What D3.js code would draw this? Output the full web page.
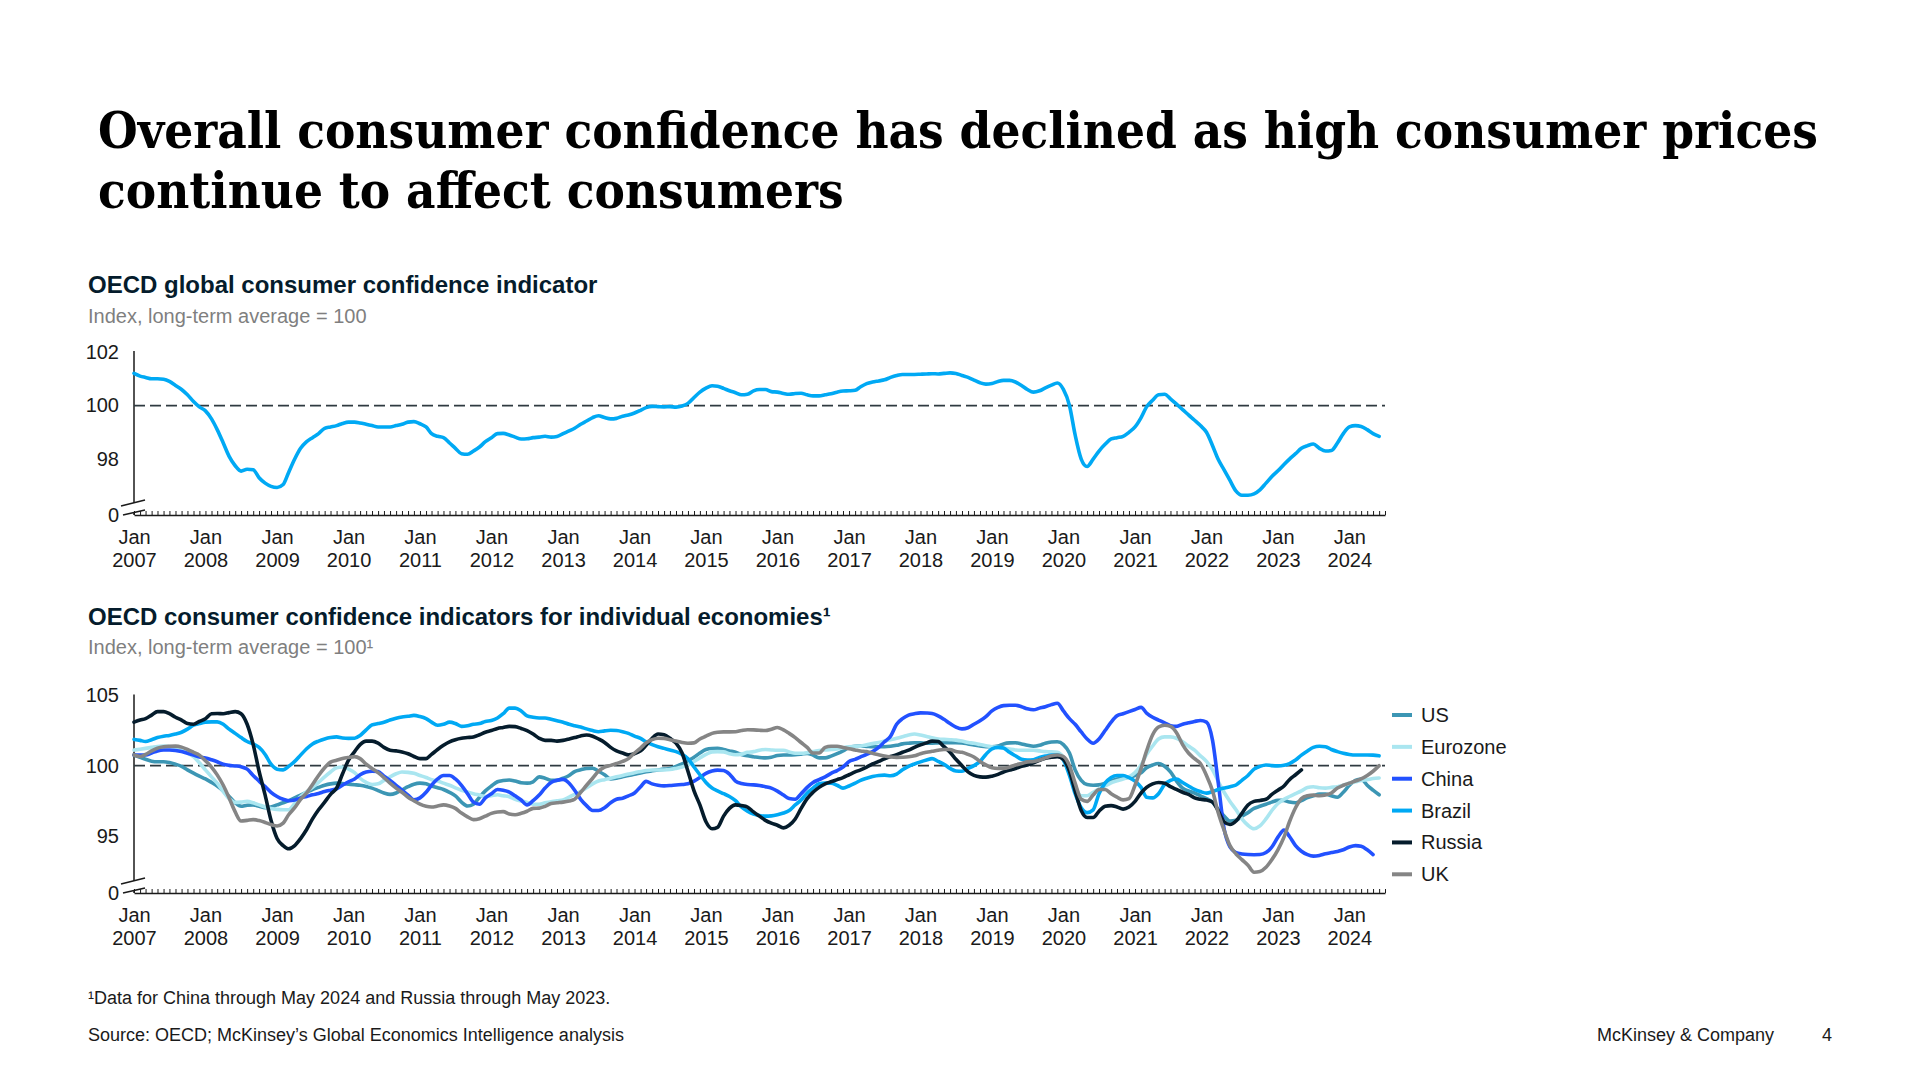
<!DOCTYPE html>
<html><head><meta charset="utf-8">
<script src="https://cdn.jsdelivr.net/npm/d3@7"></script>
<style>
html,body{margin:0;padding:0;background:#fff;}
svg{display:block;}
text{font-family:"Liberation Sans",Arial,sans-serif;}
</style></head>
<body>
<svg id="chart" width="1920" height="1080"></svg>
<script>
// ---------------- DATA ----------------
const startMonth = new Date(2007, 0, 1);
const endMonth = new Date(2024, 6, 1);           // exclusive
const months = d3.timeMonth.range(startMonth, endMonth); // Jan 2007 .. Jun 2024
const yearLabels = d3.range(2007, 2025);         // "Jan YYYY" labels

const globalCCI = [
 101.2,101.1,101.05,101.0,101.0,100.98,100.9,100.75,100.6,100.4,100.15,99.95,
 99.8,99.5,99.1,98.6,98.1,97.75,97.55,97.62,97.6,97.3,97.1,96.98,
 96.94,97.05,97.5,98.0,98.4,98.65,98.8,98.95,99.15,99.2,99.25,99.33,
 99.38,99.38,99.35,99.3,99.25,99.2,99.2,99.2,99.25,99.3,99.38,99.4,
 99.32,99.2,98.95,98.85,98.8,98.6,98.4,98.2,98.18,98.3,98.45,98.65,
 98.8,98.95,98.96,98.9,98.82,98.75,98.76,98.8,98.82,98.85,98.82,98.84,
 98.95,99.05,99.15,99.3,99.42,99.55,99.62,99.55,99.5,99.52,99.6,99.65,
 99.72,99.82,99.92,99.97,99.96,99.95,99.96,99.94,99.98,100.08,100.3,100.5,
 100.65,100.74,100.72,100.64,100.55,100.48,100.4,100.42,100.55,100.6,100.6,100.52,
 100.5,100.45,100.42,100.45,100.46,100.4,100.36,100.36,100.4,100.44,100.5,100.54,
 100.55,100.57,100.7,100.82,100.88,100.92,100.96,101.05,101.12,101.16,101.16,101.16,
 101.17,101.18,101.19,101.18,101.2,101.22,101.2,101.12,101.05,100.95,100.85,100.8,
 100.82,100.9,100.94,100.94,100.88,100.75,100.6,100.5,100.55,100.66,100.76,100.84,
 100.6,100.0,98.9,98.0,97.72,98.0,98.3,98.55,98.75,98.8,98.85,99.0,
 99.2,99.55,99.95,100.2,100.4,100.42,100.25,100.05,99.85,99.65,99.45,99.25,
 99.0,98.5,98.0,97.6,97.2,96.8,96.65,96.65,96.7,96.85,97.1,97.35,
 97.56,97.8,98.0,98.2,98.4,98.5,98.56,98.4,98.3,98.32,98.6,98.95,
 99.2,99.25,99.22,99.1,98.95,98.85
];

const usCCI = [
 100.76,100.6,100.45,100.32,100.28,100.28,100.22,100.1,99.95,99.7,99.46,99.25,
 99.05,98.8,98.55,98.2,97.8,97.35,97.1,97.18,97.2,97.1,97.0,97.05,
 97.2,97.35,97.5,97.7,97.9,98.1,98.3,98.45,98.6,98.7,98.75,98.72,
 98.68,98.64,98.6,98.52,98.4,98.22,98.05,97.95,98.05,98.27,98.5,98.68,
 98.75,98.7,98.55,98.42,98.3,98.1,97.85,97.4,97.12,97.25,97.75,98.2,
 98.55,98.85,98.94,98.98,98.9,98.78,98.75,98.85,99.2,99.1,98.95,98.95,
 99.1,99.3,99.58,99.7,99.8,99.81,99.6,99.35,99.05,99.1,99.2,99.3,
 99.38,99.48,99.56,99.63,99.69,99.75,99.8,99.95,100.12,100.35,100.6,100.9,
 101.15,101.22,101.23,101.15,101.05,100.95,100.8,100.7,100.64,100.58,100.55,100.6,
 100.72,100.76,100.76,100.78,100.82,100.87,100.75,100.55,100.55,100.68,100.85,101.05,
 101.3,101.38,101.39,101.37,101.35,101.35,101.35,101.38,101.45,101.55,101.6,101.63,
 101.62,101.6,101.6,101.62,101.63,101.63,101.63,101.62,101.55,101.47,101.4,101.35,
 101.35,101.4,101.55,101.62,101.63,101.55,101.45,101.38,101.45,101.6,101.68,101.7,
 101.5,100.9,99.7,98.95,98.65,98.6,98.63,98.75,98.9,99.05,99.12,99.17,
 99.3,99.5,99.85,100.05,100.15,99.95,99.55,98.9,98.4,98.2,98.05,97.85,
 97.65,97.4,96.9,96.4,96.05,96.1,96.4,96.65,96.95,97.1,97.25,97.4,
 97.52,97.52,97.4,97.35,97.5,97.72,97.85,97.97,97.98,97.85,97.75,98.1,
 98.6,98.95,99.05,98.6,98.25,97.92
];

const eurozoneCCI = [
 101.11,101.17,101.23,101.3,101.37,101.39,101.37,101.3,101.15,100.9,100.64,100.2,
 99.7,99.2,98.75,98.15,97.65,97.38,97.4,97.45,97.35,97.2,97.05,96.95,
 96.88,96.86,96.86,97.3,97.8,98.15,98.45,98.8,99.2,99.55,99.85,99.9,
 99.75,99.5,99.1,98.8,98.65,98.7,98.95,99.2,99.42,99.55,99.52,99.45,
 99.3,99.15,99.0,98.9,98.75,98.6,98.42,98.25,98.12,98.0,97.9,97.8,
 97.85,97.92,97.85,97.78,97.6,97.48,97.38,97.25,97.25,97.35,97.42,97.5,
 97.56,97.75,97.95,98.15,98.42,98.7,98.9,99.0,99.1,99.2,99.3,99.4,
 99.5,99.58,99.65,99.69,99.69,99.69,99.72,99.8,99.9,100.05,100.3,100.55,
 100.8,100.98,101.0,100.98,100.85,100.78,100.82,100.95,101.0,101.1,101.15,101.12,
 101.1,101.1,100.98,100.88,100.88,100.92,101.0,101.08,101.12,101.15,101.18,101.28,
 101.35,101.37,101.39,101.48,101.57,101.65,101.75,101.85,101.95,102.06,102.18,102.25,
 102.18,102.08,101.98,101.9,101.87,101.85,101.82,101.75,101.65,101.6,101.5,101.42,
 101.35,101.3,101.25,101.18,101.12,101.1,101.1,101.1,101.05,101.0,100.99,100.95,
 100.6,99.85,98.6,97.85,97.85,98.1,98.35,98.55,98.78,98.92,99.05,99.2,
 99.5,100.05,100.8,101.4,101.9,102.05,102.05,101.95,101.7,101.4,101.1,100.7,
 100.3,99.7,98.9,98.1,97.45,96.85,96.2,95.75,95.5,95.7,96.2,96.8,
 97.3,97.6,97.8,98.0,98.2,98.45,98.5,98.42,98.4,98.45,98.5,98.6,
 98.75,98.85,98.94,99.0,99.08,99.12
];

const chinaCCI = [ // through May 2024
 100.76,100.76,100.76,100.9,101.05,101.11,101.11,101.08,101.0,100.88,100.75,100.62,
 100.55,100.42,100.28,100.1,100.02,99.98,99.92,99.75,99.3,98.9,98.5,98.1,
 97.8,97.6,97.5,97.55,97.7,97.8,97.92,98.02,98.15,98.25,98.35,98.6,
 98.85,99.05,99.35,99.55,99.6,99.58,99.25,98.95,98.6,98.25,97.9,97.56,
 97.7,98.1,98.6,99.05,99.3,99.3,99.05,98.6,98.0,97.4,97.25,97.7,
 98.0,98.3,98.25,98.12,97.85,97.55,97.2,97.5,97.9,98.4,98.8,98.95,
 99.02,98.75,98.25,97.6,97.15,96.8,96.8,97.0,97.35,97.6,97.68,97.85,
 98.05,98.5,98.88,98.7,98.6,98.56,98.58,98.62,98.65,98.7,98.9,99.15,
 99.45,99.62,99.68,99.65,99.4,98.9,98.72,98.65,98.63,98.58,98.5,98.4,
 98.18,97.9,97.65,97.6,98.0,98.45,98.8,99.0,99.2,99.45,99.65,99.9,
 100.3,100.45,100.62,100.8,101.0,101.3,101.7,102.1,102.95,103.35,103.6,103.7,
 103.76,103.75,103.72,103.55,103.3,103.0,102.75,102.62,102.7,102.95,103.2,103.5,
 103.9,104.15,104.28,104.3,104.3,104.2,104.05,103.98,104.1,104.2,104.35,104.45,
 103.9,103.35,102.95,102.4,101.9,101.6,101.9,102.5,103.1,103.55,103.7,103.85,
 104.0,104.15,103.75,103.45,103.25,103.05,102.85,102.8,102.95,103.05,103.15,103.22,
 103.1,101.8,98.9,95.5,94.2,93.8,93.7,93.66,93.65,93.66,93.8,94.2,
 94.9,95.4,94.95,94.3,93.9,93.65,93.55,93.6,93.72,93.8,93.88,94.0,
 94.2,94.3,94.25,94.0,93.66
];

const brazilCCI = [
 101.87,101.8,101.72,101.85,102.0,102.1,102.15,102.25,102.38,102.6,102.88,103.0,
 103.1,103.12,103.12,102.95,102.6,102.3,102.0,101.72,101.55,101.3,100.8,100.1,
 99.75,99.7,99.95,100.3,100.75,101.2,101.55,101.75,101.9,102.0,102.05,101.97,
 101.94,101.95,102.15,102.55,102.9,103.0,103.1,103.25,103.38,103.47,103.52,103.58,
 103.5,103.35,103.1,102.88,102.95,103.1,103.0,102.8,102.85,102.95,103.0,103.15,
 103.22,103.4,103.7,104.1,104.1,103.9,103.55,103.45,103.4,103.4,103.3,103.2,
 103.1,102.95,102.85,102.75,102.62,102.5,102.42,102.48,102.52,102.5,102.42,102.3,
 102.1,101.94,101.7,101.5,101.35,101.23,101.12,101.0,100.8,100.5,99.9,99.35,
 98.8,98.4,98.2,98.0,97.8,97.5,97.05,96.75,96.55,96.45,96.4,96.42,
 96.5,96.62,96.8,97.2,97.55,98.05,98.4,98.7,98.75,98.75,98.6,98.4,
 98.55,98.75,98.95,99.1,99.22,99.3,99.32,99.28,99.4,99.7,99.95,100.12,
 100.27,100.4,100.5,100.3,100.1,99.8,99.62,99.6,99.8,100.0,100.3,100.8,
 101.2,101.3,101.25,100.95,100.7,100.45,100.4,100.42,100.58,100.68,100.75,100.76,
 100.4,99.3,98.0,97.0,96.65,96.85,98.0,98.75,99.15,99.3,99.3,99.15,
 98.9,98.45,97.75,97.7,98.0,98.65,98.95,99.05,98.8,98.55,98.3,98.15,
 98.04,98.15,98.3,98.4,98.5,98.62,98.95,99.3,99.75,99.95,100.05,100.0,
 99.98,100.02,100.15,100.4,100.75,101.05,101.3,101.38,101.35,101.15,101.0,100.88,
 100.8,100.76,100.76,100.76,100.75,100.7
];

const russiaCCI = [ // through May 2023
 103.1,103.25,103.35,103.6,103.85,103.85,103.7,103.45,103.25,103.0,102.95,103.15,
 103.35,103.7,103.72,103.7,103.78,103.85,103.7,102.95,101.5,99.6,97.9,96.1,
 94.8,94.3,94.07,94.3,94.8,95.45,96.2,96.85,97.4,97.95,98.4,99.4,
 100.4,101.0,101.5,101.75,101.75,101.6,101.3,101.1,101.05,100.98,100.85,100.65,
 100.5,100.5,100.8,101.15,101.45,101.7,101.85,101.95,102.0,102.05,102.2,102.38,
 102.5,102.65,102.72,102.8,102.78,102.65,102.5,102.25,101.95,101.8,101.8,101.75,
 101.8,101.9,102.0,102.12,102.18,102.1,101.9,101.65,101.3,101.05,100.9,100.77,
 100.85,101.05,101.45,101.95,102.25,102.2,101.95,101.6,100.9,99.6,98.2,97.2,
 96.0,95.5,95.6,96.4,96.95,97.2,97.15,97.05,96.7,96.4,96.1,95.9,
 95.75,95.56,95.75,96.2,96.95,97.65,98.1,98.45,98.7,98.85,99.0,99.15,
 99.35,99.55,99.7,99.9,100.12,100.3,100.48,100.65,100.78,100.95,101.1,101.3,
 101.48,101.62,101.75,101.72,101.35,100.95,100.45,100.0,99.55,99.3,99.2,99.18,
 99.25,99.38,99.55,99.68,99.8,99.95,100.05,100.2,100.38,100.52,100.6,100.64,
 100.45,99.6,98.2,96.8,96.3,96.3,96.75,97.1,97.15,97.05,96.9,97.05,
 97.45,98.05,98.45,98.7,98.8,98.75,98.5,98.3,98.1,97.95,97.7,97.6,
 97.55,97.4,96.8,96.0,95.8,96.05,96.6,97.2,97.45,97.52,97.6,97.95,
 98.25,98.55,99.0,99.35,99.7
];

const ukCCI = [
 100.76,100.65,100.8,101.05,101.25,101.35,101.38,101.39,101.32,101.15,100.95,100.75,
 100.35,99.9,99.34,98.6,97.7,96.7,96.05,96.1,96.15,96.08,95.95,95.8,
 95.7,95.9,96.5,97.0,97.6,98.05,98.65,99.3,99.85,100.25,100.38,100.5,
 100.58,100.64,100.5,100.1,99.8,99.5,99.15,98.75,98.4,98.1,97.75,97.5,
 97.25,97.1,97.05,97.12,97.2,97.12,96.95,96.62,96.35,96.15,96.22,96.4,
 96.6,96.7,96.72,96.55,96.5,96.6,96.75,96.95,96.97,97.1,97.3,97.35,
 97.4,97.48,97.6,98.1,98.6,99.1,99.6,99.9,100.02,100.15,100.3,100.5,
 100.9,101.25,101.62,101.85,101.95,101.94,101.85,101.75,101.65,101.6,101.62,101.9,
 102.1,102.3,102.38,102.41,102.41,102.42,102.5,102.56,102.55,102.52,102.5,102.6,
 102.72,102.55,102.3,102.0,101.65,101.3,100.9,100.9,101.3,101.38,101.38,101.3,
 101.2,101.12,101.05,101.0,100.88,100.78,100.68,100.62,100.59,100.6,100.63,100.7,
 100.85,100.95,101.02,101.1,101.15,101.15,101.0,100.95,100.8,100.62,100.3,100.05,
 99.85,99.8,99.8,99.9,100.05,100.15,100.27,100.3,100.4,100.55,100.7,100.76,
 100.65,100.0,98.75,97.6,97.45,97.9,98.3,98.3,98.0,97.75,97.56,97.65,
 98.6,99.8,101.05,102.2,102.75,102.88,102.8,102.35,101.5,100.9,100.5,100.15,
 99.3,98.2,96.7,95.4,94.3,93.7,93.3,92.9,92.4,92.45,92.75,93.3,
 94.0,94.9,96.0,97.0,97.65,97.85,97.9,97.85,97.9,98.05,98.4,98.6,
 98.75,98.9,99.05,99.3,99.6,100.0
];

const seriesNames = ["US", "Eurozone", "China", "Brazil", "Russia", "UK"];
const seriesValues = [usCCI, eurozoneCCI, chinaCCI, brazilCCI, russiaCCI, ukCCI];
const topTicks = [98, 100, 102];
const bottomTicks = [95, 100, 105];

// ---------------- STYLE ----------------
const seriesColors = ["#3C96B4", "#AAE6F0", "#2251FF", "#00A9F4", "#051C2C", "#858585"];
const globalColor = "#00A9F4";
const ink = "#1a1a1a";
const navy = "#051C2C";
const grey = "#7f7f7f";
const titleFont = "'DejaVu Serif Condensed','DejaVu Serif',Georgia,serif";

const svg = d3.select("#chart");
svg.append("rect").attr("width", 1920).attr("height", 1080).attr("fill", "#fff");

// ---------------- TITLE ----------------
const titleG = svg.append("g").attr("fill", "#000");
const tl1 = titleG.append("text").attr("x", 98).attr("y", 148)
  .style("font-family", titleFont).style("font-weight", "bold").style("font-stretch", "condensed")
  .attr("font-size", 46).text("Overall consumer confidence has declined as high consumer prices");
const tl2 = titleG.append("text").attr("x", 98).attr("y", 208)
  .style("font-family", titleFont).style("font-weight", "bold").style("font-stretch", "condensed")
  .attr("font-size", 46).text("continue to affect consumers");
const w1 = tl1.node().getComputedTextLength();
const fs = Math.min(52, 46 * 1720 / w1);
tl1.attr("font-size", fs); tl2.attr("font-size", fs);

// ---------------- SCALES ----------------
const X0 = 134, XEND = 1385;
const x = d3.scaleTime().domain([startMonth, endMonth]).range([X0, XEND]);

const topBase = 515;
const yTop = d3.scaleLinear().domain([95.91, 102]).range([topBase, 352]);
const botBase = 893;
const yBot = d3.scaleLinear().domain([90.92, 105]).range([botBase, 695.5]);

function heading(yMain, ySub, main, sub) {
  svg.append("text").attr("x", 88).attr("y", yMain).attr("font-size", 24)
    .attr("font-weight", "bold").attr("fill", navy).text(main);
  svg.append("text").attr("x", 88).attr("y", ySub).attr("font-size", 20)
    .attr("fill", grey).text(sub);
}

function drawFrame(y, base, ticks, topVal) {
  const g = svg.append("g");
  const yAxis = d3.axisLeft(y).tickValues(ticks).tickSize(0).tickPadding(15).tickFormat(d3.format("d"));
  const ya = g.append("g").attr("transform", `translate(${X0},0)`).call(yAxis);
  ya.select(".domain").remove();
  ya.selectAll("text").attr("font-size", 20).attr("fill", ink)
    .style("font-family", "'Liberation Sans',Arial,sans-serif");
  g.append("text").attr("x", X0 - 15).attr("y", base).attr("dy", "0.35em")
    .attr("text-anchor", "end").attr("font-size", 20).attr("fill", ink).text("0");
  g.append("line").attr("x1", X0).attr("x2", X0).attr("y1", y(topVal) - 1).attr("y2", base - 12)
    .attr("stroke", ink).attr("stroke-width", 1.5);
  g.append("line").attr("x1", X0).attr("x2", X0).attr("y1", base - 3).attr("y2", base)
    .attr("stroke", ink).attr("stroke-width", 1.5);
  g.append("line").attr("x1", X0 - 13).attr("y1", base - 9).attr("x2", X0 + 11).attr("y2", base - 15)
    .attr("stroke", ink).attr("stroke-width", 1.5);
  g.append("line").attr("x1", X0 - 11).attr("y1", base).attr("x2", X0 + 11).attr("y2", base - 5)
    .attr("stroke", ink).attr("stroke-width", 1.5);
  const xAxis = d3.axisBottom(x).ticks(d3.timeMonth.every(1)).tickSizeInner(-4).tickSizeOuter(0).tickFormat("");
  const xa = g.append("g").attr("transform", `translate(0,${base})`).call(xAxis);
  xa.select(".domain").attr("stroke", ink).attr("stroke-width", 1.5);
  xa.selectAll(".tick line").attr("stroke", ink).attr("stroke-width", 1);
  const yearDates = yearLabels.map(yy => new Date(yy, 0, 1));
  const lAxis = d3.axisBottom(x).tickValues(yearDates).tickSize(0).tickFormat("");
  const la = g.append("g").attr("transform", `translate(0,${base})`).call(lAxis);
  la.select(".domain").remove();
  la.selectAll(".tick").each(function(d) {
    const t = d3.select(this);
    t.append("text").attr("y", 22).attr("dy", "0.35em").attr("text-anchor", "middle")
      .attr("font-size", 20).attr("fill", ink).text("Jan");
    t.append("text").attr("y", 45).attr("dy", "0.35em").attr("text-anchor", "middle")
      .attr("font-size", 20).attr("fill", ink).text(d.getFullYear());
  });
  g.append("line").attr("x1", X0).attr("x2", XEND).attr("y1", y(100)).attr("y2", y(100))
    .attr("stroke", "#2f3a40").attr("stroke-width", 1.8).attr("stroke-dasharray", "11,5");
  return g;
}

// ---------------- TOP CHART ----------------
heading(292.5, 323, "OECD global consumer confidence indicator", "Index, long-term average = 100");
drawFrame(yTop, topBase, topTicks, 102);
const lineTop = d3.line().x((d, i) => x(months[i])).y(d => yTop(d)).curve(d3.curveMonotoneX);
svg.append("path").datum(globalCCI).attr("d", lineTop).attr("fill", "none")
  .attr("stroke", globalColor).attr("stroke-width", 3.6).attr("stroke-linejoin", "round").attr("stroke-linecap", "round");

// ---------------- BOTTOM CHART ----------------
heading(624.5, 653.5, "OECD consumer confidence indicators for individual economies\u00B9",
  "Index, long-term average = 100\u00B9");
drawFrame(yBot, botBase, bottomTicks, 105);
const lineBot = d3.line().defined(d => d != null).x((d, i) => x(months[i])).y(d => yBot(d)).curve(d3.curveMonotoneX);
seriesValues.forEach((vals, k) => {
  svg.append("path").datum(vals).attr("d", lineBot).attr("fill", "none")
    .attr("stroke", seriesColors[k]).attr("stroke-width", 3.6)
    .attr("stroke-linejoin", "round").attr("stroke-linecap", "round");
});

// legend
const legendY = d3.scalePoint().domain(seriesNames).range([715, 874.3]);
const lg = svg.append("g");
seriesNames.forEach((name, k) => {
  const yy = legendY(name);
  lg.append("line").attr("x1", 1392).attr("x2", 1412).attr("y1", yy).attr("y2", yy)
    .attr("stroke", seriesColors[k]).attr("stroke-width", 4);
  lg.append("text").attr("x", 1421).attr("y", yy).attr("dy", "0.35em")
    .attr("font-size", 20).attr("fill", ink).text(name);
});

// ---------------- FOOTER ----------------
svg.append("text").attr("x", 88).attr("y", 1004).attr("font-size", 18).attr("fill", ink)
  .text("\u00B9Data for China through May 2024 and Russia through May 2023.");
svg.append("text").attr("x", 88).attr("y", 1041).attr("font-size", 18).attr("fill", ink)
  .text("Source: OECD; McKinsey\u2019s Global Economics Intelligence analysis");
svg.append("text").attr("x", 1774).attr("y", 1041).attr("text-anchor", "end").attr("font-size", 18)
  .attr("fill", ink).text("McKinsey & Company");
svg.append("text").attr("x", 1827).attr("y", 1041).attr("text-anchor", "middle").attr("font-size", 18)
  .attr("fill", ink).text("4");
</script>
</body></html>
